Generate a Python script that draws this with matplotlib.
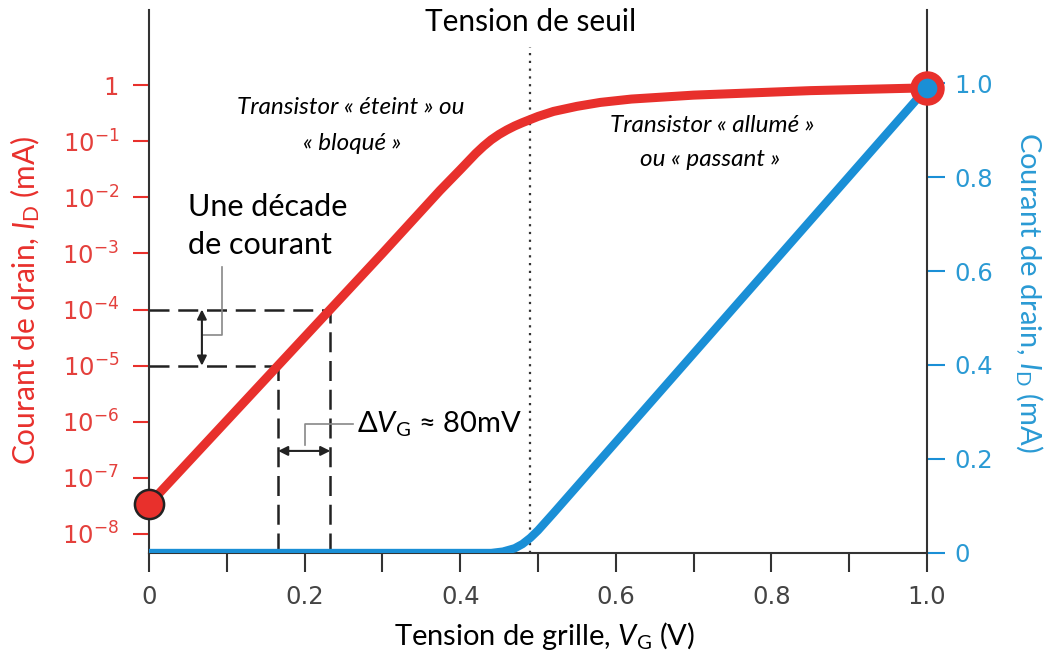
import matplotlib
matplotlib.use("Agg")
import matplotlib.pyplot as plt
import numpy as np

# --- data ---
# red curve: gate voltage (V) and log10 of drain current (mA), log axis
red_v = [0.0, 0.10, 0.20, 0.30, 0.374, 0.40, 0.42, 0.43, 0.44, 0.45, 0.46, 0.47,
         0.48, 0.50, 0.52, 0.55, 0.58, 0.62, 0.70, 0.85, 1.0]
red_log_i = [-7.47, -5.98, -4.49, -3.0, -1.88, -1.51, -1.22, -1.09, -0.975, -0.88,
             -0.80, -0.73, -0.67, -0.56, -0.47, -0.38, -0.31, -0.25, -0.18, -0.10, -0.05]

# blue curve: gate voltage (V) and drain current (mA), linear axis
blue_v = [0.0, 0.44, 0.455, 0.47, 0.48, 0.49, 0.50, 0.52, 1.0]
blue_i = [0.0, 0.0, 0.003, 0.010, 0.019, 0.032, 0.048, 0.085, 0.99]

# one decade of current and the matching gate voltages
decade_v = [0.166, 0.233]
decade_i = [1e-5, 1e-4]

threshold_v = 0.49

x_ticks = [0.0, 0.1, 0.2, 0.3, 0.4, 0.5, 0.6, 0.7, 0.8, 0.9, 1.0]
x_labels = ['0', '', '0.2', '', '0.4', '', '0.6', '', '0.8', '', '1.0']
log_ticks = [1, 1e-1, 1e-2, 1e-3, 1e-4, 1e-5, 1e-6, 1e-7, 1e-8]
log_labels = ['1', r'$10^{-1}$', r'$10^{-2}$', r'$10^{-3}$', r'$10^{-4}$',
              r'$10^{-5}$', r'$10^{-6}$', r'$10^{-7}$', r'$10^{-8}$']
lin_ticks = [0, 0.2, 0.4, 0.6, 0.8, 1.0]
lin_labels = ['0', '0.2', '0.4', '0.6', '0.8', '1.0']

RED = '#e8302c'
RED_TXT = '#e4403c'
BLUE = '#1a8fd6'
BLUE_TXT = '#2a9ad4'
GREY = '#444444'
TEXT_FONT = ['Lato', 'DejaVu Sans']

plt.rcParams['mathtext.fontset'] = 'custom'
plt.rcParams['mathtext.rm'] = 'Lato'
plt.rcParams['mathtext.it'] = 'Lato:italic'
plt.rcParams['mathtext.default'] = 'regular'
plt.rcParams['font.family'] = ['DejaVu Sans']

fig = plt.figure(figsize=(10.45, 6.57), dpi=100)
ax = fig.add_axes([149 / 1045, 104 / 657, 778 / 1045, 543 / 657])
ax2 = ax.twinx()

# left log axis
ax.set_yscale('log')
ax.set_xlim(0, 1.0)
ax.set_ylim(10 ** -8.339, 10 ** 1.337)
ax.set_yticks(log_ticks)
ax.set_yticklabels(log_labels)
ax.minorticks_off()
ax.set_xticks(x_ticks)
ax.set_xticklabels(x_labels)

ax2.set_ylim(0, 543 / 470)
ax2.set_yticks(lin_ticks)
ax2.set_yticklabels(lin_labels)

for s in ['top', 'right']:
    ax.spines[s].set_visible(False)
for s in ['top', 'left', 'bottom']:
    ax2.spines[s].set_visible(False)
for sp in [ax.spines['left'], ax.spines['bottom'], ax2.spines['right']]:
    sp.set_color('#333333')
    sp.set_linewidth(1.5)

ax.tick_params(axis='y', colors=RED, labelcolor=RED_TXT, length=11.5, width=1.5,
               pad=10, labelsize=17.5)
ax.tick_params(axis='x', colors='#333333', labelcolor=GREY, length=14, width=1.5,
               pad=9, labelsize=17.5)
ax2.tick_params(axis='y', colors=BLUE, labelcolor=BLUE_TXT, length=13, width=1.5,
                pad=7, labelsize=17.5)

# curves
ax.plot(red_v, 10 ** np.array(red_log_i), color=RED, lw=6.5, solid_capstyle='round',
        solid_joinstyle='round', zorder=3)
ax2.plot(blue_v, blue_i, color=BLUE, lw=6, solid_capstyle='round',
         solid_joinstyle='round', zorder=3)

# end markers
ax.plot(red_v[0], 10 ** red_log_i[0], 'o', ms=21, mfc=RED, mec='#222222', mew=1.8,
        clip_on=False, zorder=6)
ax2.plot(blue_v[-1], blue_i[-1], 'o', ms=19.5, mfc=BLUE, mec=RED, mew=5.3,
         clip_on=False, zorder=6)

# threshold line
ax.axvline(threshold_v, ymax=(553 - 47) / 543, color='#333333', lw=1.6,
           ls=(0, (1, 2.5)), zorder=2)

# decade construction lines
ybot = ax.get_ylim()[0]
for v, i in zip(decade_v, decade_i):
    ax.plot([0, v], [i, i], color='#222222', lw=1.8, ls=(0, (8, 3.5)), zorder=2)
    ax.plot([v, v], [ybot, i], color='#222222', lw=1.8, ls=(0, (8, 3.5)), zorder=2)

arrow = dict(arrowstyle='<|-|>', color='#222222', lw=1.5, mutation_scale=14,
             shrinkA=0, shrinkB=0)
ax.annotate('', xy=(0.068, decade_i[1]), xytext=(0.068, decade_i[0]), arrowprops=arrow)
ax.annotate('', xy=(decade_v[0], 10 ** -6.52), xytext=(decade_v[1], 10 ** -6.52),
            arrowprops=arrow)

# leader lines
ax.plot([0.0694, 0.094, 0.094], [10 ** -4.45, 10 ** -4.45, 10 ** -3.25],
        color='#888888', lw=1.2, zorder=2)
ax.plot([0.2005, 0.2005, 0.262], [10 ** -6.41, 10 ** -6.04, 10 ** -6.04],
        color='#888888', lw=1.2, zorder=2)


def px(x, y):
    return ((x - 149) / 778, (553 - y) / 543)


ax.text(*px(357, 424), r'Δ$\mathit{V}_\mathrm{G}$ ≈ 80mV', transform=ax.transAxes,
        ha='left', va='center', fontsize=21, family=TEXT_FONT)
ax.text(*px(188, 207), 'Une décade', transform=ax.transAxes, ha='left', va='center',
        fontsize=22, family=TEXT_FONT)
ax.text(*px(188, 245), 'de courant', transform=ax.transAxes, ha='left', va='center',
        fontsize=22, family=TEXT_FONT)
ax.text(*px(531, 22), 'Tension de seuil', transform=ax.transAxes, ha='center',
        va='center', fontsize=21.5, family=TEXT_FONT, clip_on=False)

ax.text(*px(351, 107), 'Transistor « éteint » ou', transform=ax.transAxes, ha='center',
        va='center', fontsize=17.5, style='italic', family=TEXT_FONT)
ax.text(*px(352, 143), '« bloqué »', transform=ax.transAxes, ha='center',
        va='center', fontsize=17.5, style='italic', family=TEXT_FONT)
ax.text(*px(712, 125), 'Transistor « allumé »', transform=ax.transAxes, ha='center',
        va='center', fontsize=17.5, style='italic', family=TEXT_FONT)
ax.text(*px(710, 160), 'ou « passant »', transform=ax.transAxes, ha='center',
        va='center', fontsize=17.5, style='italic', family=TEXT_FONT)

# axis labels
ax.set_xlabel(r'Tension de grille, $\mathit{V}_\mathrm{G}$ (V)', fontsize=21,
              family=TEXT_FONT, va='center')
ax.xaxis.set_label_coords(*px(545, 636))
ax.set_ylabel(r'Courant de drain, $\mathit{I}_\mathrm{D}$ (mA)', fontsize=21.5,
              family=TEXT_FONT, color=RED, va='center')
ax.yaxis.set_label_coords(*px(25, 300))
ax2.set_ylabel(r'Courant de drain, $\mathit{I}_\mathrm{D}$ (mA)', fontsize=21,
               family=TEXT_FONT, color=BLUE_TXT, rotation=270, va='center')
ax2.yaxis.set_label_coords(*px(1030, 292))

fig.savefig('out.png', dpi=100)
